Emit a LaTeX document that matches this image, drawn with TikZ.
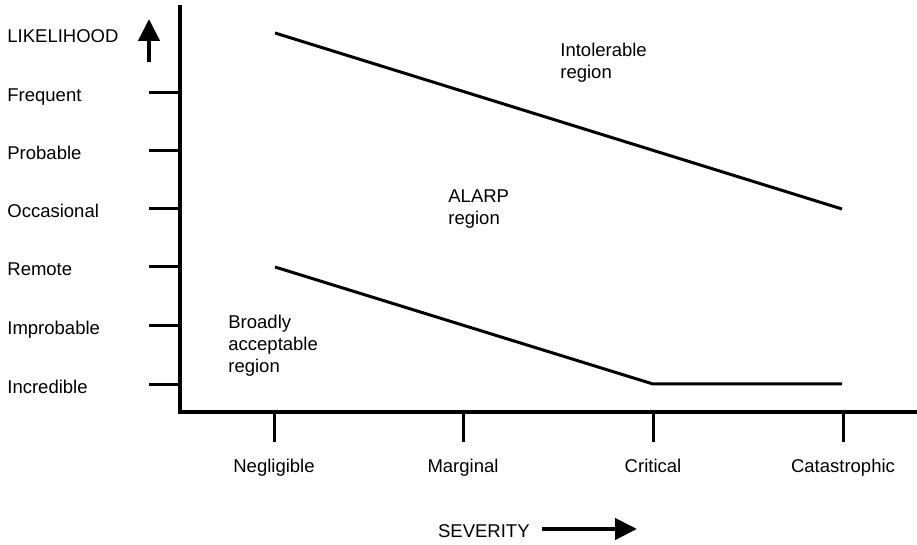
\documentclass[tikz,border=0pt]{standalone}
\usepackage{fontspec}
\setmainfont{Liberation Sans}
\usetikzlibrary{arrows.meta,positioning}
\tikzset{
  lbl/.style={font=\fontsize{9.25}{11}\selectfont, inner sep=0pt},
  ylbl/.style={lbl, anchor=base west},
  xlbl/.style={lbl, anchor=base},
  region/.style={lbl, align=left, anchor=base west},
  axis/.style={line width=1.65pt},
  zone/.style={line width=1.5pt},
  tickmark/.style={line width=1.5pt},
  bigarr/.style={-{Triangle[length=11pt,width=10.5pt]}, line width=2.2pt},
}

\begin{document}
\begin{tikzpicture}[x=0.5pt,y=-0.5pt]
  \useasboundingbox (0,0) rectangle (917,545);
  % axes
  \coordinate (ytop) at (180,5);
  \coordinate (orig) at (180,412);
  \coordinate (xend) at (917,412);
  \draw[axis] (ytop) -- (orig) -- (xend);

  % likelihood scale
  \node[ylbl] (lik) at (7,43) {LIKELIHOOD};
  \coordinate (likfrom) at (149,62);
  \coordinate (likto) at (149,19);
  \draw[bigarr] (likfrom) -- (likto);
  \foreach \name/\yy in {Frequent/93, Probable/151, Occasional/209,
                         Remote/267, Improbable/326, Incredible/385} {
    \coordinate (yt-\name) at (149,\yy);
    \draw[tickmark] (yt-\name) -- (orig |- yt-\name);
    \node[ylbl] (yl-\name) at (7,\yy+9) {\name};
  }

  % severity scale
  \foreach \name/\xx in {Negligible/274, Marginal/463, Critical/653, Catastrophic/843} {
    \coordinate (xt-\name) at (\xx,442);
    \draw[tickmark] (orig -| xt-\name) -- (xt-\name);
    \node[xlbl] (xl-\name) at (\xx,473) {\name};
  }
  \node[lbl, anchor=base east] (sev) at (530,538) {SEVERITY};
  \coordinate (sevfrom) at (542,529);
  \coordinate (sevto) at (637,529);
  \draw[bigarr] (sevfrom) -- (sevto);

  % region boundaries
  \coordinate (up1) at (275,33);
  \coordinate (up2) at (842,209);
  \draw[zone] (up1) -- (up2);
  \coordinate (lo1) at (275,267);
  \coordinate (lo2) at (653,384);
  \coordinate (lo3) at (842,384);
  \draw[zone] (lo1) -- (lo2) -- (lo3);

  % region names (base = last line)
  \node[region] (intol) at (560,79) {Intolerable\\region};
  \node[region] (alarp) at (448,225) {ALARP\\region};
  \node[region] (broad) at (228,373) {Broadly\\acceptable\\region};
\end{tikzpicture}
\end{document}
